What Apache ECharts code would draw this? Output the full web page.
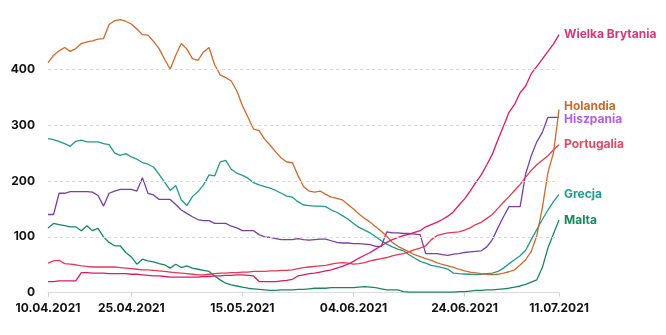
<!DOCTYPE html>
<html><head><meta charset="utf-8">
<script src="https://cdn.jsdelivr.net/npm/echarts@6/dist/echarts.min.js"></script>
<style>html,body{margin:0;padding:0;background:#fff}#c{width:666px;height:335px}</style>
</head><body><div id="c"></div>
<script>
// 93 daily categories 10.04.2021 .. 11.07.2021
const startDate = [2021, 3, 10];
const dayCount = 93;
const tickIdx = [0, 15, 35, 55, 75, 92];
const yTicks = [100, 200, 300, 400];

const holandia = [412,425,433,439,432,437,446,449,451,454,455,480,487,489,486,481,472,462,461,450,437,418,400,425,446,436,419,416,431,439,408,390,385,379,361,335,314,293,290,275,264,252,241,234,233,210,190,182,180,182,176,171,169,166,158,150,141,133,126,118,110,101,90,83,78,73,68,64.5,61,58,54,50.5,48,45.5,42,39,37,35.5,34,33,32.5,33,35,37.5,41,49.5,59,74,102,152,215,250,328];
const grecja = [276,274,271,267,262,271,273,270,270,270,267,265,250,246,249,243,239,233,230,225,212,198,183,192,166,156,172,181,193,211,209,234,237,221,214,210,205,197,193,190,187,183,178,173,171,163,157,156,155,155,154,148,144,138,132,124,117,112,107,100,93,87,82,78,75,68,62,56,53,49,47,45,42,35,34,33.5,33,32.5,33,34,35,38,44,52,59,66,76,95,113,131,148,163,176];
const hiszpania = [140,140,178,178,181,181,181,181,180,174,155,178,182,185,185,185,182,206,178,175,167,167,167,158,148,142,136,131,129,129,124,124,124,119,116,111,111,111,104,100,99,97,95,95,95,97,95,94,95,96,96,93,90,89,89,88,88,87,86,83,83,109,107,107,106,106,105,104,70,70,70,68,67,69,70,72,73,74,75,82,95,116,136,154,154,154,213,245,270,287,314,314,314];
const portugalia = [53,57,58,52,51,50,48,47,46,46,46,46,46,45,44,43,42,41,41,40,39,38,37,36,35,34,33,32,32,33,34,35,35,36,36,37,37,38,38,38,39,39,40,40,41,43,45,46,47,48,49,51,53,54,53,51,52,54,57,59,61,63,66,68,70,73,77,80,84,95,102,105,107,108,109,112,116,122,126,133,140,151,162,172,183,194,207,219,229,237,245,256,265];
const wielkaBrytania = [20,20,21,21,21,21,36,36,35,35,35,34,34,34,34,33,33,32,31,30,30,29,28,28,28,28,28,28,29,29,30,30,31,31,32,32,31,30,20,20,20,20,21,22,24,30,32,34,35,37,39,41,44,47,51,56,62,67,72,78,84,90,95,99,102,105,108,111,118,122,126,131,137,145,157,168,182,197,211,229,248,274,298,323,337,358,370,392,405,418,432,445,462];
const malta = [116,124,122,120,118,118,111,120,111,115,100,90,84,84,72,64,51,60,57,55,52,50,44,51,45,48,44,42,40,38,30,23,17,14,12,10,8,7,6,5,4,4,5,5,5,6,6,7,8,8,8,9,9,9,9,9,10,11,10,9,7,5,5,5,2,1,1,1,1,1,1,1,1,1,2,2,3,4,4,5,5,6,7,8,10,12,15,19,23,45,80,105,130];

function pad(n){return n<10?'0'+n:''+n;}
const categories = [];
for (let i = 0; i < dayCount; i++) {
  const d = new Date(startDate[0], startDate[1], startDate[2] + i);
  categories.push(pad(d.getDate()) + '.' + pad(d.getMonth()+1) + '.' + d.getFullYear());
}

const FONT = 'Inter, "Noto Sans", sans-serif';
function mk(name, data, lineColor, labelColor, offY, z) {
  return {
    name, type: 'line', data, symbol: 'none', z: z || 3,
    lineStyle: {color: lineColor, width: 1.3},
    itemStyle: {color: lineColor},
    endLabel: {show: true, formatter: name, color: labelColor, fontFamily: FONT,
      fontWeight: 'bold', fontSize: 12, distance: 5, offset: [0, offY || 0]},
    emphasis: {disabled: true}, animation: false
  };
}

const chart = echarts.init(document.getElementById('c'), null, {renderer: 'canvas'});
chart.setOption({
  animation: false,
  grid: {left: 48, right: 107, top: 13.4, bottom: 42.3},
  xAxis: {
    type: 'category', data: categories, boundaryGap: false,
    axisLine: {lineStyle: {color: '#dcdcdc'}},
    axisTick: {show: true, length: 4, lineStyle: {color: '#cfcfcf'}, interval: (i) => tickIdx.includes(i)},
    axisLabel: {interval: (i) => tickIdx.includes(i), color: '#111', fontFamily: FONT,
      fontWeight: 'bold', fontSize: 12, margin: 10, showMaxLabel: true}
  },
  yAxis: {
    type: 'value', min: 0, max: 500, interval: 100,
    splitLine: {show: false}, axisLine: {show: false}, axisTick: {show: false},
    axisLabel: {formatter: (v) => v === 500 ? '' : String(v), color: '#111', fontFamily: FONT,
      fontWeight: 'bold', fontSize: 12, margin: 13}
  },
  series: [
    {type: 'line', data: [], z: 1, silent: true, animation: false,
      markLine: {symbol: 'none', silent: true, label: {show: false},
        lineStyle: {color: '#d9d9d9', type: [3, 3], width: 1},
        data: yTicks.map(v => ({yAxis: v}))}},
    mk('Malta', malta, '#16895c', '#16895c'),
    mk('Grecja', grecja, '#1f9a8d', '#1f9a8d'),
    mk('Hiszpania', hiszpania, '#7a3fa5', '#b35ce6', 2),
    mk('Portugalia', portugalia, '#e6384f', '#e14a61'),
    mk('Holandia', holandia, '#d1692b', '#cf6a2c', -3),
    mk('Wielka Brytania', wielkaBrytania, '#e0186a', '#d7377a')
  ]
});
</script></body></html>
